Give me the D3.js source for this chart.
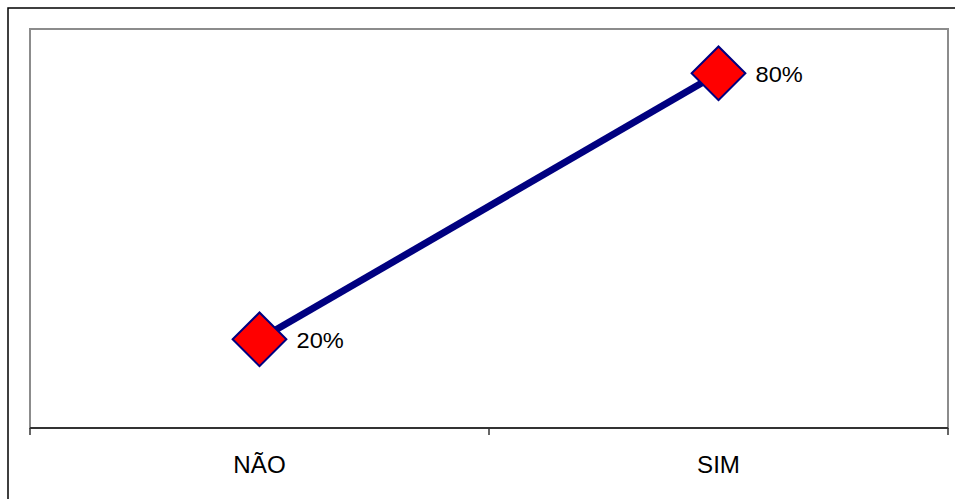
<!DOCTYPE html>
<html>
<head>
<meta charset="utf-8">
<script src="https://cdn.jsdelivr.net/npm/d3@7"></script>
<style>
  html, body { margin: 0; padding: 0; background: #fff; }
  svg { display: block; }
</style>
</head>
<body>
<svg id="chart" width="955" height="499"></svg>
<script>
// Respostas (categorias) e percentuais
const categories = ["NÃO", "SIM"];
const values = [0.20, 0.80];
const valueLabels = ["20%", "80%"];

const W = 955, H = 499;
const plot = { left: 30, top: 29, right: 948, bottom: 428 };

const svg = d3.select("#chart");

// Moldura externa do gráfico
svg.append("rect")
  .attr("x", 8).attr("y", 8)
  .attr("width", W).attr("height", H)
  .attr("fill", "#fff")
  .attr("stroke", "#000")
  .attr("stroke-width", 1.5);

const x = d3.scaleBand()
  .domain(categories)
  .range([plot.left, plot.right])
  .paddingInner(0).paddingOuter(0);

const y = d3.scaleLinear()
  .domain([0, 0.9])
  .range([plot.bottom, plot.top]);

// Área de plotagem
svg.append("rect")
  .attr("x", plot.left).attr("y", plot.top)
  .attr("width", plot.right - plot.left)
  .attr("height", plot.bottom - plot.top)
  .attr("fill", "#fff")
  .attr("stroke", "#8c8c8c")
  .attr("stroke-width", 2);

// Eixo X: linha, marcas entre categorias
const ticks = [plot.left, ...categories.slice(1).map(c => x(c)), plot.right];
const axis = svg.append("g");
axis.append("line")
  .attr("x1", plot.left).attr("x2", plot.right)
  .attr("y1", plot.bottom).attr("y2", plot.bottom)
  .attr("stroke", "#333").attr("stroke-width", 2);
axis.selectAll("line.tick")
  .data(ticks)
  .join("line")
  .attr("class", "tick")
  .attr("x1", d => d).attr("x2", d => d)
  .attr("y1", plot.bottom).attr("y2", plot.bottom + 7)
  .attr("stroke", "#333").attr("stroke-width", 1.5);

const fontFamily = "Arial, 'Liberation Sans', Helvetica, sans-serif";
const sx = 1.05; // leve alongamento horizontal do texto

axis.selectAll("text")
  .data(categories)
  .join("text")
  .attr("transform", d => `translate(${x(d) + x.bandwidth() / 2},473) scale(${sx},1)`)
  .attr("text-anchor", "middle")
  .attr("font-family", fontFamily)
  .attr("font-size", 23)
  .attr("fill", "#000")
  .text(d => d);

const cx = (d, i) => x(categories[i]) + x.bandwidth() / 2;

// Linha da série
const line = d3.line()
  .x((d, i) => cx(d, i))
  .y(d => y(d));

svg.append("path")
  .datum(values)
  .attr("d", line)
  .attr("fill", "none")
  .attr("stroke", "#000080")
  .attr("stroke-width", 7);

// Marcadores em losango
const diamond = d3.symbol().type(d3.symbolSquare).size(38 * 38);
svg.selectAll("path.marker")
  .data(values)
  .join("path")
  .attr("class", "marker")
  .attr("d", diamond)
  .attr("transform", (d, i) => `translate(${cx(d, i)},${y(d)}) rotate(45)`)
  .attr("fill", "#ff0000")
  .attr("stroke", "#000080")
  .attr("stroke-width", 2);

// Rótulos de dados
svg.selectAll("text.label")
  .data(values)
  .join("text")
  .attr("class", "label")
  .attr("transform", (d, i) => `translate(${cx(d, i) + 37},${y(d) + 8.5}) scale(${sx},1)`)
  .attr("font-family", fontFamily)
  .attr("font-size", 22.5)
  .attr("fill", "#000")
  .text((d, i) => valueLabels[i]);
</script>
</body>
</html>
